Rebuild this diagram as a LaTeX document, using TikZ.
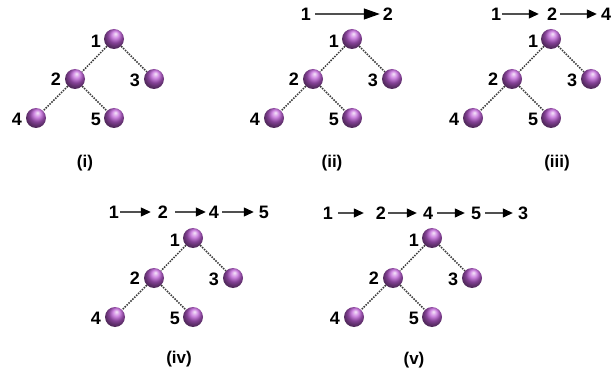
\documentclass[tikz,border=0pt]{standalone}
\usepackage{fontspec}
\setmainfont{Liberation Sans}
\usetikzlibrary{arrows.meta}
\definecolor{ballc}{RGB}{190,95,215}
\definecolor{dotc}{RGB}{60,60,60}
\definecolor{shaftc}{RGB}{80,80,80}
\tikzset{
  ballnode/.style={circle, minimum size=20pt, inner sep=0pt, shading=ball, ball color=ballc, shading angle=-60},
  lbl/.style={inner sep=0pt, font=\fontsize{18}{18}\selectfont\bfseries},
  capt/.style={inner sep=0pt, font=\fontsize{17}{17}\selectfont\bfseries},
  edgeline/.style={draw=dotc, line width=1.5pt, dash pattern=on 1.5pt off 1.2pt},
  seqarrow/.style={draw=shaftc, line width=1.2pt, shorten <=3pt, shorten >=5pt, -{Triangle[color=black,length=10pt,width=9pt]}},
}
\newcommand\drawtree[3]{%
  \begin{scope}[shift={(#2,#3)}]
    \node[ballnode] (#1b1) at (0,0) {};
    \node[ballnode] (#1b2) at (-39,40) {};
    \node[ballnode] (#1b3) at (40,40) {};
    \node[ballnode] (#1b4) at (-78,79) {};
    \node[ballnode] (#1b5) at (0,79) {};
    \node[lbl] (#1l1) at (-18,2) {1};
    \node[lbl] (#1l2) at (-58,40) {2};
    \node[lbl] (#1l3) at (21,41) {3};
    \node[lbl] (#1l4) at (-97,80) {4};
    \node[lbl] (#1l5) at (-18,80) {5};
    \draw[edgeline] (#1b1) -- (#1b2);
    \draw[edgeline] (#1b1) -- (#1b3);
    \draw[edgeline] (#1b2) -- (#1b4);
    \draw[edgeline] (#1b2) -- (#1b5);
  \end{scope}}
\begin{document}
\begin{tikzpicture}[x=1pt,y=-1pt]
\useasboundingbox (0,0) rectangle (613,374);
% trees
\drawtree{ta}{114}{39}
\drawtree{tb}{352}{39}
\drawtree{tc}{551}{39}
\drawtree{td}{193}{238}
\drawtree{te}{432}{238}
% captions
\node[capt] (ca) at (85,163) {(i)};
\node[capt] (cb) at (332,163) {(ii)};
\node[capt] (cc) at (557,163) {(iii)};
\node[capt] (cd) at (179,359) {(iv)};
\node[capt] (ce) at (414,360) {(v)};
% sequence (ii)
\node[lbl] (sb1) at (306,14) {1};
\node[lbl] (sb2) at (388,14) {2};
\draw[draw=shaftc, line width=1.2pt, shorten <=4pt, shorten >=3pt, -{Triangle[color=black,length=16pt,width=11pt]}] (sb1) -- (sb2);
% sequence (iii)
\node[lbl] (sc1) at (496,14) {1};
\node[lbl] (sc2) at (552,14) {2};
\node[lbl] (sc4) at (606,14) {4};
\draw[seqarrow, shorten <=1pt, shorten >=8pt] (sc1) -- (sc2);
\draw[seqarrow, shorten <=3pt, shorten >=4pt] (sc2) -- (sc4);
% sequence (iv)
\node[lbl] (sd1) at (114,212) {1};
\node[lbl] (sd2) at (163,212) {2};
\node[lbl] (sd4) at (214,212) {4};
\node[lbl] (sd5) at (264,212) {5};
\draw[seqarrow, shorten <=1pt, shorten >=7pt] (sd1) -- (sd2);
\draw[seqarrow, shorten <=7pt, shorten >=3pt] (sd2) -- (sd4);
\draw[seqarrow, shorten <=3pt, shorten >=5pt] (sd4) -- (sd5);
% sequence (v)
\node[lbl] (se1) at (328,213) {1};
\node[lbl] (se2) at (381,213) {2};
\node[lbl] (se4) at (428,213) {4};
\node[lbl] (se5) at (476,213) {5};
\node[lbl] (se3) at (523,213) {3};
\draw[seqarrow, shorten <=5pt, shorten >=12pt] (se1) -- (se2);
\draw[seqarrow, shorten <=2pt, shorten >=6pt] (se2) -- (se4);
\draw[seqarrow, shorten <=4pt, shorten >=6pt] (se4) -- (se5);
\draw[seqarrow, shorten <=4pt, shorten >=5pt] (se5) -- (se3);
\end{tikzpicture}
\end{document}
